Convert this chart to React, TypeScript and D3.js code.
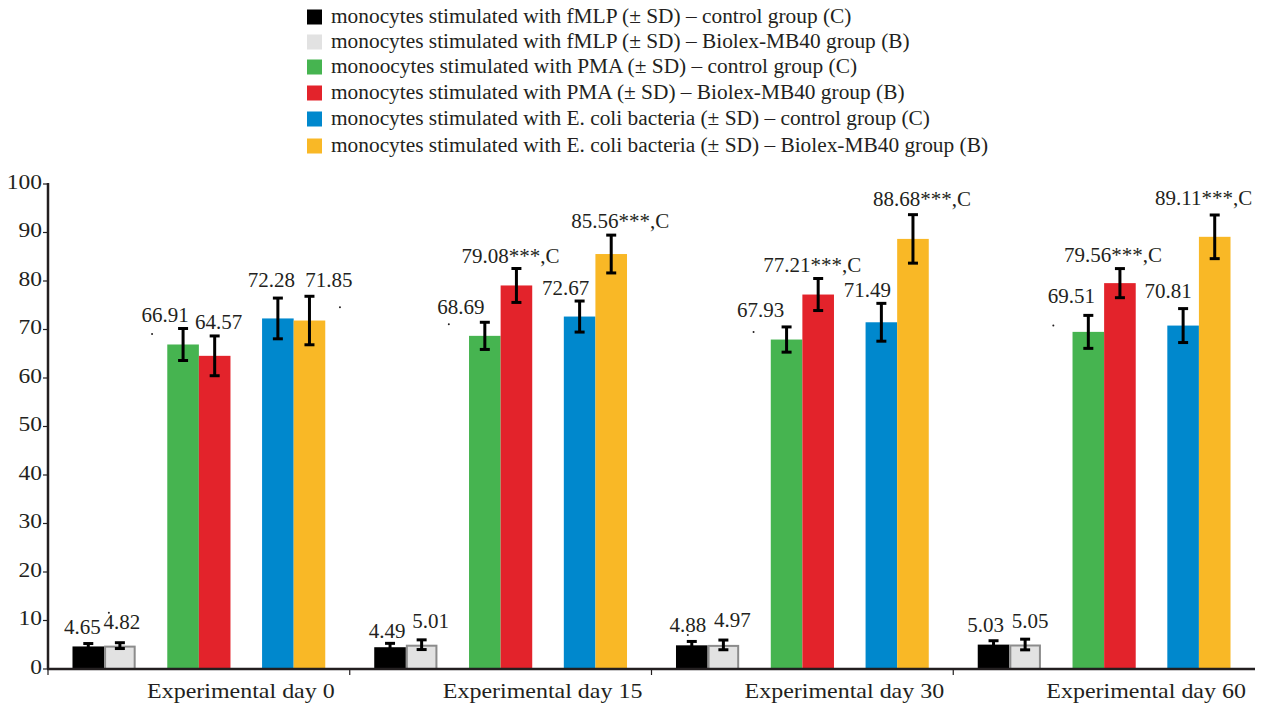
import React from "react";
import * as d3 from "d3";

const days = ["Experimental day 0", "Experimental day 15", "Experimental day 30", "Experimental day 60"];
const seriesNames = [
  "monocytes stimulated with fMLP (± SD) – control group (C)",
  "monocytes stimulated with fMLP (± SD) – Biolex-MB40 group (B)",
  "monoocytes stimulated with PMA (± SD) – control group (C)",
  "monocytes stimulated with PMA (± SD) – Biolex-MB40 group (B)",
  "monocytes stimulated with E. coli bacteria (± SD) – control group (C)",
  "monocytes stimulated with E. coli bacteria (± SD) – Biolex-MB40 group (B)",
];
const colors = ["#000000", "#e2e2e2", "#46b450", "#e3232b", "#0088cd", "#f9b826"];
const outlines = ["none", "#8c8c8c", "none", "none", "none", "none"];

// values per day, per series
const day0 = [4.65, 4.82, 66.91, 64.57, 72.28, 71.85];
const day15 = [4.49, 5.01, 68.69, 79.08, 72.67, 85.56];
const day30 = [4.88, 4.97, 67.93, 77.21, 71.49, 88.68];
const day60 = [5.03, 5.05, 69.51, 79.56, 70.81, 89.11];
const values = [day0, day15, day30, day60];

const sd0 = [0.6, 0.6, 3.3, 4.1, 4.2, 5.0];
const sd15 = [0.8, 1.0, 2.8, 3.5, 3.2, 3.9];
const sd30 = [0.8, 1.0, 2.6, 3.3, 3.9, 5.0];
const sd60 = [0.8, 1.1, 3.4, 3.0, 3.5, 4.5];
const sds = [sd0, sd15, sd30, sd60];

const suffix0 = ["", "", "", "", "", ""];
const suffix15 = ["", "", "", "***,C", "", "***,C"];
const suffix30 = ["", "", "", "***,C", "", "***,C"];
const suffix60 = ["", "", "", "***,C", "", "***,C"];
const suffixes = [suffix0, suffix15, suffix30, suffix60];

const yTicks = [0, 10, 20, 30, 40, 50, 60, 70, 80, 90, 100];

// label nudges relative to bar centre / error-bar top
const labelDx = [
  [-6, 2, -18, 4, -6.5, 19.5],
  [-3, 9, -24, -6, -14, 9],
  [-4, 9, -26, -6, -14, 9],
  [-8, 5, -17, -7, -15, -11],
];
const labelDy = [
  [-9.5, -14, -6.5, -7, -11, -9],
  [-5, -12, -8, -5.5, -6, -7],
  [-9.5, -13, -10, -6.5, -6, -9],
  [-9, -11, -12, -6.5, -10.6, -10],
];
// stray dots present in the original near some labels
const strayDots = [
  { d: 0, s: 2, dx: -13, dy: 12 },
  { d: 0, s: 5, dx: 11, dy: 20 },
  { d: 0, s: 1, dx: -13, dy: -16 },
  { d: 1, s: 2, dx: -12, dy: 10 },
  { d: 2, s: 2, dx: -7, dy: 15 },
  { d: 2, s: 0, dx: 0, dy: 3 },
  { d: 3, s: 2, dx: -18, dy: 22 },
];

const W = 1265;
const H = 711;
const FONT = "'Liberation Serif', 'Times New Roman', serif";
const INK = "#231f20";

export default function App() {
  const x = d3.scaleBand<string>().domain(days).range([48, 1255]).paddingInner(0).paddingOuter(0);
  const slots = ["s0", "s1", "g1", "s2", "s3", "g2", "s4", "s5"];
  const seriesSlot = ["s0", "s1", "s2", "s3", "s4", "s5"];
  const inner = d3.scaleBand<string>().domain(slots).range([0, x.bandwidth()]).paddingInner(0).paddingOuter(0.775);
  const y = d3.scaleLinear().domain([0, 100]).range([669, 184]);
  const bw = inner.bandwidth();

  const legendY = [17, 42, 67, 93, 119, 146];
  const legendTextY = [23, 48, 73, 99, 125, 152];

  return (
    <svg width={W} height={H} style={{ position: "absolute", left: 0, top: 0, background: "#fff" }} fontFamily={FONT}>
      {/* legend */}
      {seriesNames.map((n, i) => (
        <g key={"lg" + i}>
          <rect x={307} y={legendY[i] - 7.5} width={15} height={15} fill={colors[i]} />
          <text x={331} y={legendTextY[i]} fontSize={20} fill={INK} transform={`translate(331,0) scale(1.068,1) translate(-331,0)`}>
            {n}
          </text>
        </g>
      ))}

      {/* bars */}
      {days.map((d, di) => (
        <g key={"grp" + di}>
          {values[di].map((v, si) => {
            const x0 = (x(d) as number) + (inner(seriesSlot[si]) as number);
            const stroke = outlines[si];
            const sw = stroke === "none" ? 0 : 2;
            return (
              <rect
                key={"b" + si}
                x={x0 + sw / 2}
                y={y(v) + sw / 2}
                width={bw - sw}
                height={y(0) - y(v) - sw / 2}
                fill={colors[si]}
                stroke={stroke}
                strokeWidth={sw}
              />
            );
          })}
        </g>
      ))}

      {/* error bars */}
      {days.map((d, di) => (
        <g key={"err" + di} stroke="#000" strokeWidth={3}>
          {values[di].map((v, si) => {
            const cx = (x(d) as number) + (inner(seriesSlot[si]) as number) + bw / 2;
            const top = y(v + sds[di][si]);
            const bot = y(v - sds[di][si]);
            return (
              <g key={"e" + si}>
                <line x1={cx} x2={cx} y1={top} y2={bot} />
                <line x1={cx - 5} x2={cx + 5} y1={top} y2={top} />
                <line x1={cx - 5} x2={cx + 5} y1={bot} y2={bot} />
              </g>
            );
          })}
        </g>
      ))}

      {/* value labels */}
      {days.map((d, di) => (
        <g key={"lab" + di}>
          {values[di].map((v, si) => {
            const cx = (x(d) as number) + (inner(seriesSlot[si]) as number) + bw / 2;
            const top = y(v + sds[di][si]);
            return (
              <text
                key={"t" + si}
                x={cx + labelDx[di][si]}
                y={top + labelDy[di][si]}
                textAnchor="middle"
                fontSize={21}
                fill={INK}
              >
                {v.toFixed(2) + suffixes[di][si]}
              </text>
            );
          })}
        </g>
      ))}

      {/* stray dots */}
      {strayDots.map((p, k) => {
        const v = values[p.d][p.s];
        const cx = (x(days[p.d]) as number) + (inner(seriesSlot[p.s]) as number) + bw / 2 + labelDx[p.d][p.s];
        const by = y(v + sds[p.d][p.s]) + labelDy[p.d][p.s];
        return <circle key={"dot" + k} cx={cx + p.dx} cy={by + p.dy} r={1} fill={INK} />;
      })}

      {/* y axis */}
      <line x1={48} x2={48} y1={y(100) - 1} y2={y(0)} stroke={INK} strokeWidth={2.5} />
      {yTicks.map((t) => (
        <g key={"yt" + t}>
          <line x1={43} x2={48} y1={y(t)} y2={y(t)} stroke={INK} strokeWidth={1.2} />
          <text x={42} y={y(t) + 5} textAnchor="end" fontSize={21} fill={INK} transform={`translate(42,0) scale(1.12,1) translate(-42,0)`}>
            {t}
          </text>
        </g>
      ))}

      {/* x axis */}
      <line x1={47} x2={1255} y1={y(0)} y2={y(0)} stroke={INK} strokeWidth={2.5} />
      {days.map((d, di) => {
        const cx = (x(d) as number) + x.bandwidth() / 2 + 42;
        return (
          <g key={"xt" + di}>
            <line x1={x(d) as number} x2={x(d) as number} y1={y(0)} y2={y(0) + 6} stroke={INK} strokeWidth={1.2} />
            <text x={cx} y={698} textAnchor="middle" fontSize={22} fill={INK} transform={`translate(${cx},0) scale(1.09,1) translate(${-cx},0)`}>
              {d}
            </text>
          </g>
        );
      })}
    </svg>
  );
}
